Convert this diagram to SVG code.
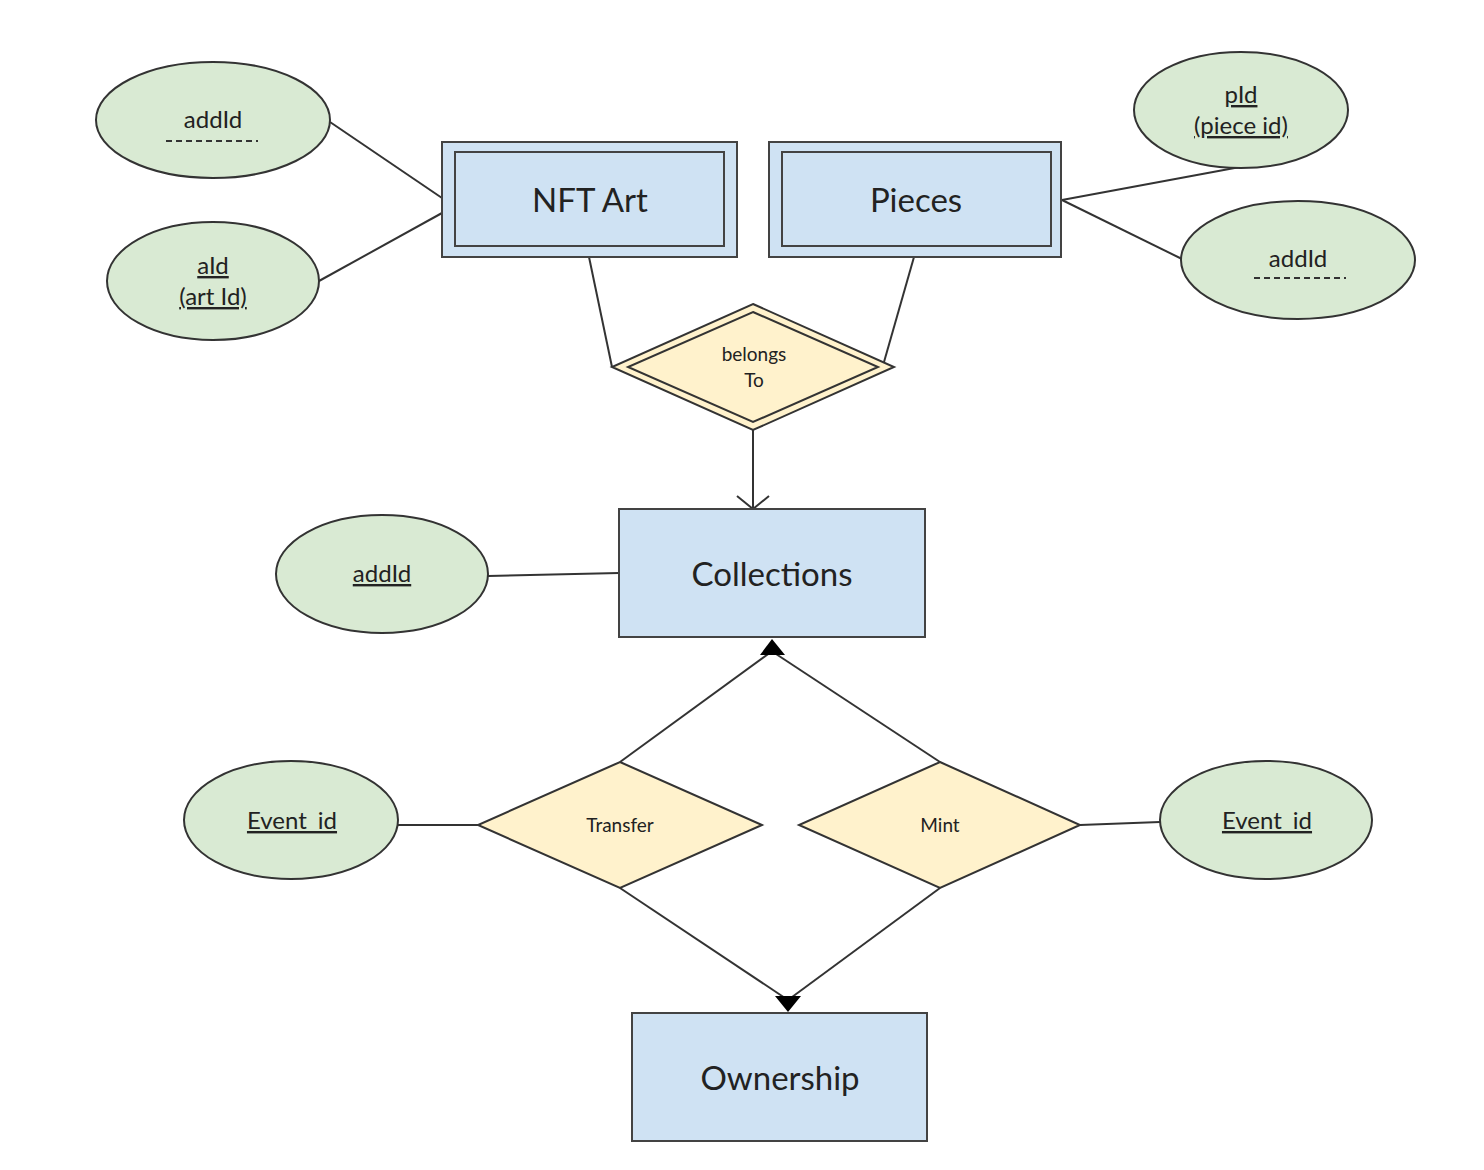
<svg xmlns="http://www.w3.org/2000/svg" width="1484" height="1170" viewBox="0 0 1484 1170">
<style>
.ent{fill:#cfe2f3;stroke:#434343;stroke-width:2}
.att{fill:#d9ead3;stroke:#333;stroke-width:2}
.rel{fill:#fff2cc;stroke:#333;stroke-width:2}
.ln{stroke:#333;stroke-width:2;fill:none}
.dash{stroke:#333;stroke-width:2;stroke-dasharray:6 4}
text{font-family:Lato,"Noto Sans","Liberation Sans",sans-serif;fill:#222;text-anchor:middle}
.big{font-size:33px}
.mid{font-size:24px}
.sm{font-size:19px}
.u{text-decoration:underline}
</style>
<defs>
<marker id="open" markerWidth="16" markerHeight="34" refX="14" refY="17" orient="auto" markerUnits="userSpaceOnUse">
<path d="M1,1 L14,17 L1,33" fill="none" stroke="#333" stroke-width="2"/>
</marker>
</defs>
<g id="connectors">
<line class="ln" x1="330" y1="122" x2="442" y2="198"/>
<line class="ln" x1="319" y1="281" x2="442" y2="213"/>
<line class="ln" x1="1062" y1="200" x2="1240" y2="167"/>
<line class="ln" x1="1062" y1="200" x2="1182" y2="259"/>
<line class="ln" x1="589" y1="257" x2="612" y2="367"/>
<line class="ln" x1="914" y1="257" x2="884" y2="362"/>
<line class="ln" x1="753" y1="430" x2="753" y2="509" marker-end="url(#open)"/>
<line class="ln" x1="488" y1="576" x2="619" y2="573"/>
<path class="ln" d="M620,762 L771,652"/>
<path class="ln" d="M940,762 L773,652"/>
<path d="M772,639 L760,655 L785,655 Z" fill="#000"/>
<path class="ln" d="M620,888 L788,1000"/>
<path class="ln" d="M940,888 L788,1000"/>
<path d="M788,1012 L775,996 L801,996 Z" fill="#000"/>
<line class="ln" x1="398" y1="825" x2="478" y2="825"/>
<line class="ln" x1="1080" y1="825" x2="1160" y2="822"/>
</g>
<g id="nftart">
<rect class="ent" x="442" y="142" width="295" height="115"/>
<rect class="ent" x="455" y="152" width="269" height="94"/>
<text class="big" x="590" y="212">NFT Art</text>
</g>
<g id="pieces">
<rect class="ent" x="769" y="142" width="292" height="115"/>
<rect class="ent" x="782" y="152" width="269" height="94"/>
<text class="big" x="916" y="212">Pieces</text>
</g>
<g id="collections">
<rect class="ent" x="619" y="509" width="306" height="128"/>
<text class="big" x="772" y="586">Collections</text>
</g>
<g id="ownership">
<rect class="ent" x="632" y="1013" width="295" height="128"/>
<text class="big" x="780" y="1090">Ownership</text>
</g>
<g id="belongsTo">
<polygon class="rel" points="753,304 894,367 753,430 612,367"/>
<polygon class="rel" points="753,312 878,367 753,422 628,367"/>
<text class="sm" x="754" y="361">belongs</text>
<text class="sm" x="754" y="387">To</text>
</g>
<g id="transfer">
<polygon class="rel" points="620,762 762,825 620,888 478,825"/>
<text class="sm" x="620" y="832">Transfer</text>
</g>
<g id="mint">
<polygon class="rel" points="940,762 1080,825 940,888 799,825"/>
<text class="sm" x="940" y="832">Mint</text>
</g>
<g id="attr-addId-nft">
<ellipse class="att" cx="213" cy="120" rx="117" ry="58"/>
<text class="mid" x="213" y="128">addId</text>
<line class="dash" x1="166" y1="141" x2="258" y2="141"/>
</g>
<g id="attr-aId">
<ellipse class="att" cx="213" cy="281" rx="106" ry="59"/>
<text class="mid u" x="213" y="274">aId</text>
<text class="mid u" x="213" y="305">(art Id)</text>
</g>
<g id="attr-pId">
<ellipse class="att" cx="1241" cy="110" rx="107" ry="58"/>
<text class="mid u" x="1241" y="103">pId</text>
<text class="mid u" x="1241" y="134">(piece id)</text>
</g>
<g id="attr-addId-pieces">
<ellipse class="att" cx="1298" cy="260" rx="117" ry="59"/>
<text class="mid" x="1298" y="267">addId</text>
<line class="dash" x1="1254" y1="278" x2="1346" y2="278"/>
</g>
<g id="attr-addId-coll">
<ellipse class="att" cx="382" cy="574" rx="106" ry="59"/>
<text class="mid u" x="382" y="582">addId</text>
</g>
<g id="attr-event-transfer">
<ellipse class="att" cx="291" cy="820" rx="107" ry="59"/>
<text class="mid u" x="292" y="829">Event_id</text>
</g>
<g id="attr-event-mint">
<ellipse class="att" cx="1266" cy="820" rx="106" ry="59"/>
<text class="mid u" x="1267" y="829">Event_id</text>
</g>
</svg>
